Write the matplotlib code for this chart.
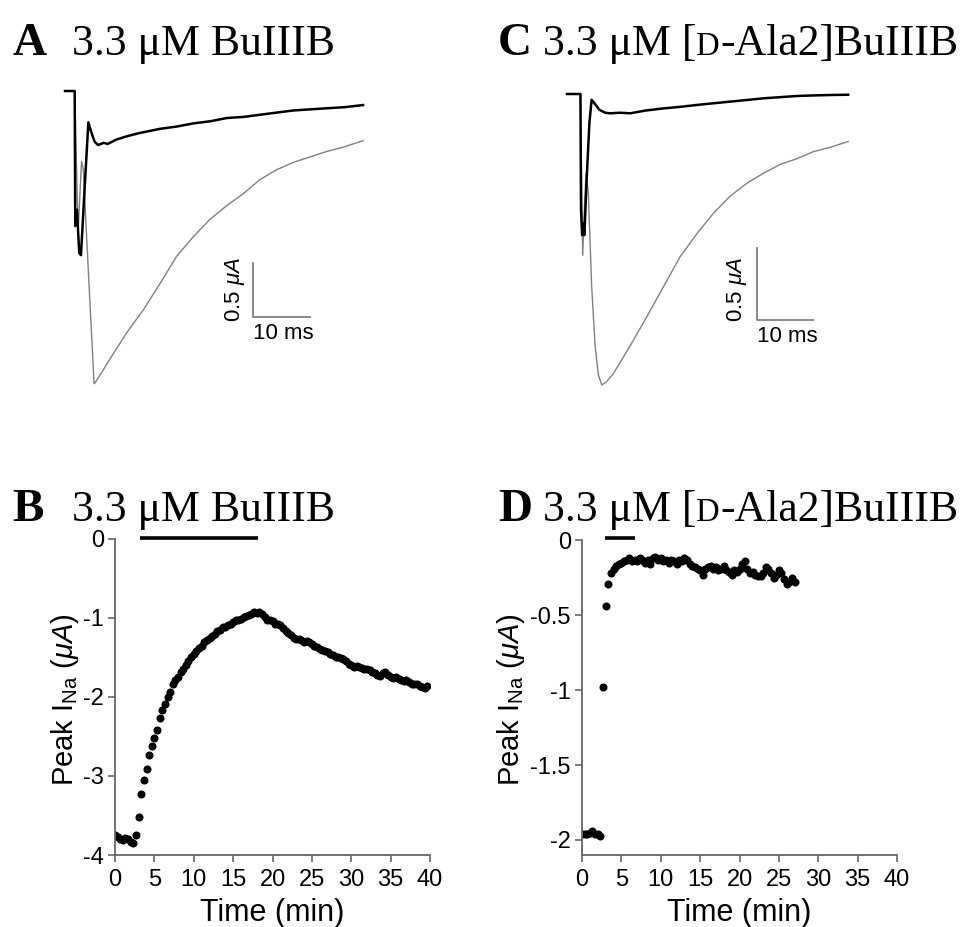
import matplotlib
matplotlib.use("Agg")
import matplotlib.pyplot as plt

plt.rcParams["font.family"] = ["Liberation Sans", "DejaVu Sans"]
plt.rcParams["mathtext.fontset"] = "custom"
plt.rcParams["mathtext.rm"] = "Liberation Sans"
plt.rcParams["mathtext.it"] = "Liberation Sans:italic"
plt.rcParams["axes.unicode_minus"] = False

# ---- data -------------------------------------------------------------
# A: current traces (ms, uA), control (grey) and in toxin (black)
a_ctrl_t = [0, 1.7, 2.3, 2.9, 3.2, 4.1, 5.1, 5.3, 6.5, 7.9, 10.8, 13.7, 16.7, 19.6,
            22.5, 25.4, 28.4, 31.3, 34.2, 37.1, 40.1, 43.0, 45.9, 48.8, 52.3]
a_ctrl_i = [0, 0, -1.3, -0.65, -0.72, -1.67, -2.71, -2.70, -2.60, -2.48, -2.24, -2.03,
            -1.78, -1.53, -1.35, -1.19, -1.06, -0.95, -0.82, -0.73, -0.66, -0.61,
            -0.56, -0.52, -0.46]
a_tox_t = [0, 1.7, 1.8, 2.1, 2.5, 2.8, 3.5, 4.1, 4.6, 5.2, 5.8, 6.8, 7.5, 9.0, 10.8,
           13.0, 16.7, 19.5, 22.5, 25.5, 28.4, 31.3, 34.2, 37.1, 40.1, 43.0, 45.9,
           49.0, 52.3]
a_tox_i = [0, 0, -1.25, -1.1, -1.5, -1.52, -0.85, -0.29, -0.38, -0.47, -0.50, -0.48,
           -0.49, -0.45, -0.42, -0.39, -0.35, -0.33, -0.30, -0.28, -0.25, -0.24,
           -0.22, -0.20, -0.18, -0.17, -0.16, -0.15, -0.13]

# C: current traces (ms, uA)
c_ctrl_t = [0, 2.4, 2.8, 3.1, 3.4, 3.8, 4.4, 5.0, 5.6, 6.2, 7.0, 8.3, 11.25, 14.2,
            17.2, 20.2, 23.2, 26.1, 29.1, 32.1, 35.1, 38.0, 41.0, 44.0, 47.0, 50.2]
c_ctrl_i = [0, 0, -1.12, -0.8, -0.55, -0.68, -1.33, -1.74, -1.95, -2.02, -2.0, -1.94,
            -1.75, -1.55, -1.34, -1.13, -0.97, -0.83, -0.71, -0.62, -0.55, -0.49,
            -0.45, -0.40, -0.37, -0.33]
c_tox_t = [0, 2.4, 2.5, 2.7, 2.9, 3.1, 3.5, 4.0, 4.4, 5.0, 5.8, 6.8, 7.7, 9.5, 11.3,
           14.0, 17.2, 20.0, 23.2, 26.0, 29.1, 32.0, 35.1, 38.0, 41.0, 44.0, 47.0, 50.2]
c_tox_i = [0, 0, -0.8, -0.98, -0.9, -0.98, -0.6, -0.2, -0.04, -0.07, -0.11, -0.13,
           -0.134, -0.13, -0.134, -0.115, -0.10, -0.09, -0.076, -0.065, -0.053,
           -0.042, -0.03, -0.022, -0.014, -0.01, -0.007, -0.005]

# B: peak INa (uA) vs time (min), BuIIIB
b_time = [0, 0.33, 0.67, 1.0, 1.33, 1.67, 2.0, 2.33, 2.67, 3.0, 3.33, 3.67, 4.0, 4.33,
          4.67, 5.0, 5.33, 5.67, 6.0, 6.33, 6.67, 7.0, 7.33, 7.67, 8.0, 8.33, 8.67,
          9.0, 9.33, 9.67, 10.0, 10.33, 10.67, 11.0, 11.33, 11.67, 12.0, 12.33, 12.67,
          13.0, 13.33, 13.67, 14.0, 14.33, 14.67, 15.0, 15.33, 15.67, 16.0, 16.33,
          16.67, 17.0, 17.33, 17.67, 18.0, 18.33, 18.67, 19.0, 19.33, 19.67, 20.0,
          20.33, 20.67, 21.0, 21.33, 21.67, 22.0, 22.33, 22.67, 23.0, 23.33, 23.67,
          24.0, 24.33, 24.67, 25.0, 25.33, 25.67, 26.0, 26.33, 26.67, 27.0, 27.33,
          27.67, 28.0, 28.33, 28.67, 29.0, 29.33, 29.67, 30.0, 30.33, 30.67, 31.0,
          31.33, 31.67, 32.0, 32.33, 32.67, 33.0, 33.33, 33.67, 34.0, 34.33, 34.67,
          35.0, 35.33, 35.67, 36.0, 36.33, 36.67, 37.0, 37.33, 37.67, 38.0, 38.33,
          38.67, 39.0, 39.33, 39.67]
b_peak = [-3.75, -3.77, -3.80, -3.81, -3.79, -3.80, -3.83, -3.85, -3.75, -3.52, -3.23,
          -3.05, -2.91, -2.74, -2.62, -2.52, -2.42, -2.26, -2.17, -2.09, -2.00, -1.94,
          -1.83, -1.79, -1.75, -1.69, -1.65, -1.60, -1.55, -1.50, -1.46, -1.42, -1.38,
          -1.35, -1.31, -1.28, -1.25, -1.23, -1.20, -1.17, -1.15, -1.12, -1.11, -1.09,
          -1.07, -1.05, -1.03, -1.02, -1.01, -0.99, -0.98, -0.96, -0.95, -0.93, -0.94,
          -0.93, -0.95, -0.99, -1.02, -1.03, -1.04, -1.07, -1.08, -1.09, -1.13, -1.17,
          -1.19, -1.22, -1.25, -1.27, -1.26, -1.28, -1.30, -1.29, -1.31, -1.33, -1.35,
          -1.37, -1.39, -1.40, -1.42, -1.43, -1.45, -1.47, -1.49, -1.50, -1.51, -1.52,
          -1.55, -1.58, -1.60, -1.62, -1.61, -1.62, -1.63, -1.64, -1.64, -1.66, -1.69,
          -1.70, -1.72, -1.73, -1.70, -1.68, -1.72, -1.75, -1.76, -1.75, -1.77, -1.78,
          -1.80, -1.79, -1.81, -1.83, -1.84, -1.83, -1.86, -1.87, -1.89, -1.86]
b_bar = [3.2, 18.1]

# D: peak INa (uA) vs time (min), [D-Ala2]BuIIIB
d_time = [0, 0.33, 0.67, 1.0, 1.33, 1.67, 2.0, 2.33, 2.67, 3.0, 3.33, 3.67, 4.0, 4.33,
          4.67, 5.0, 5.33, 5.67, 6.0, 6.33, 6.67, 7.0, 7.33, 7.67, 8.0, 8.33, 8.67,
          9.0, 9.33, 9.67, 10.0, 10.33, 10.67, 11.0, 11.33, 11.67, 12.0, 12.33, 12.67,
          13.0, 13.33, 13.67, 14.0, 14.33, 14.67, 15.0, 15.33, 15.67, 16.0, 16.33,
          16.67, 17.0, 17.33, 17.67, 18.0, 18.33, 18.67, 19.0, 19.33, 19.67, 20.0,
          20.33, 20.67, 21.0, 21.33, 21.67, 22.0, 22.33, 22.67, 23.0, 23.33, 23.67,
          24.0, 24.33, 24.67, 25.0, 25.33, 25.67, 26.0, 26.33, 26.67, 27.0]
d_peak = [-1.96, -1.96, -1.96, -1.95, -1.94, -1.96, -1.96, -1.97, -0.98, -0.44, -0.29,
          -0.22, -0.19, -0.17, -0.16, -0.15, -0.14, -0.13, -0.12, -0.14, -0.13, -0.14,
          -0.12, -0.13, -0.15, -0.13, -0.16, -0.12, -0.11, -0.13, -0.12, -0.14, -0.13,
          -0.15, -0.13, -0.14, -0.16, -0.13, -0.14, -0.12, -0.13, -0.16, -0.17, -0.18,
          -0.19, -0.20, -0.23, -0.19, -0.18, -0.17, -0.19, -0.18, -0.20, -0.19, -0.17,
          -0.20, -0.21, -0.23, -0.20, -0.21, -0.19, -0.16, -0.14, -0.19, -0.22, -0.21,
          -0.23, -0.24, -0.24, -0.22, -0.18, -0.19, -0.22, -0.25, -0.23, -0.20, -0.22,
          -0.26, -0.29, -0.28, -0.25, -0.28]
d_bar = [2.9, 6.7]

W, H = 963, 927
fig = plt.figure(figsize=(W / 100, H / 100), dpi=100)


def px_axes(x0, y0, x1, y1):
    # axes placed by pixel box (top-left origin)
    return fig.add_axes([x0 / W, 1 - y1 / H, (x1 - x0) / W, (y1 - y0) / H])


def trace_panel(box, xlim, ylim, ctrl_t, ctrl_i, tox_t, tox_i, sb_t, sb_i, sb_h):
    ax = px_axes(*box)
    ax.plot(ctrl_t, ctrl_i, color="#808080", lw=1.0)
    ax.plot(tox_t, tox_i, color="black", lw=1.8)
    ax.plot([sb_t, sb_t, sb_t + 10], [sb_i + sb_h, sb_i, sb_i], color="#808080", lw=1.3)
    ax.set_xlim(*xlim)
    ax.set_ylim(*ylim)
    ax.axis("off")
    return ax


ax_a = trace_panel((60, 85, 370, 392), (-0.877, 53.51), (-2.787, 0.0556),
                   a_ctrl_t, a_ctrl_i, a_tox_t, a_tox_i, 33.0, -2.09, 0.5)
ax_c = trace_panel((560, 85, 860, 392), (-1.25, 52.32), (-2.069, 0.0625),
                   c_ctrl_t, c_ctrl_i, c_tox_t, c_tox_i, 33.9, -1.57, 0.5)

# scale bar labels
for x_v, x_h, y_v, y_h in [(235, 283, 290, 333), (737, 787, 290, 337)]:
    fig.text(x_v / W, 1 - y_v / H, "0.5 $\\mu A$", rotation=90, ha="center",
             va="center", fontsize=16)
    fig.text(x_h / W, 1 - y_h / H, "10 ms", ha="center", va="center", fontsize=16)


def time_panel(box, ylim, yticks, ylabels, t, peak, bar, label_x):
    ax = px_axes(*box)
    ax.plot(t, peak, "o", color="black", ms=5.8, mec="none")
    ax.plot(bar, [0.015, 0.015], color="black", lw=2.6, solid_capstyle="butt",
            clip_on=False)
    ax.set_xlim(0, 40)
    ax.set_ylim(*ylim)
    ax.set_xticks(range(0, 41, 5))
    ax.set_yticks(yticks)
    ax.set_yticklabels(ylabels)
    for s in ("top", "right"):
        ax.spines[s].set_visible(False)
    for s in ("left", "bottom"):
        ax.spines[s].set_color("#666666")
        ax.spines[s].set_linewidth(1.3)
    ax.spines["left"].set_bounds(ylim[0], 0)
    ax.tick_params(direction="out", length=5, width=1.2, color="#666666",
                   labelsize=17, pad=3)
    ax.tick_params(axis="x", pad=5)
    ax.set_xlabel("Time (min)", fontsize=22, labelpad=5)
    ax.set_ylabel("Peak I$_{\\mathrm{Na}}$ ($\\mu A$)", fontsize=21)
    ax.yaxis.set_label_coords((label_x - box[0]) / (box[2] - box[0]), 0.49)
    return ax


ax_b = time_panel((115, 537.4, 430, 855), (-4, 0.02), [0, -1, -2, -3, -4],
                  ["0", "-1", "-2", "-3", "-4"], b_time, b_peak, b_bar, 81)
ax_d = time_panel((582, 537, 897, 855), (-2.1, 0.02), [0, -0.5, -1, -1.5, -2],
                  ["0", "-0.5", "-1", "-1.5", "-2"], d_time, d_peak, d_bar, 527)

# panel titles: bold letter plus serif text, [D-Ala2] with small-cap D
renderer = fig.canvas.get_renderer()
serif = ["Liberation Serif", "DejaVu Serif"]


def title_run(x_px, y_px, parts):
    x = x_px
    for s, size in parts:
        t = fig.text(x / W, 1 - y_px / H, s, fontsize=size, family=serif,
                     va="baseline", ha="left")
        x += t.get_window_extent(renderer).width


for letter, x_l, x_t, y_b, drug in [("A", 12, 72, 55, "plain"), ("C", 498, 543, 55, "dala"),
                                    ("B", 12, 72, 521, "plain"), ("D", 498, 543, 521, "dala")]:
    fig.text(x_l / W, 1 - y_b / H, letter, fontsize=34, family=serif,
             fontweight="bold", va="baseline", ha="left")
    if drug == "plain":
        title_run(x_t, y_b, [("3.3 \u03bcM BuIIIB", 31.5)])
    else:
        title_run(x_t, y_b, [("3.3 \u03bcM [", 31.5), ("D", 23.5), ("-Ala2]BuIIIB", 31.5)])

fig.savefig("out.png", dpi=100)
